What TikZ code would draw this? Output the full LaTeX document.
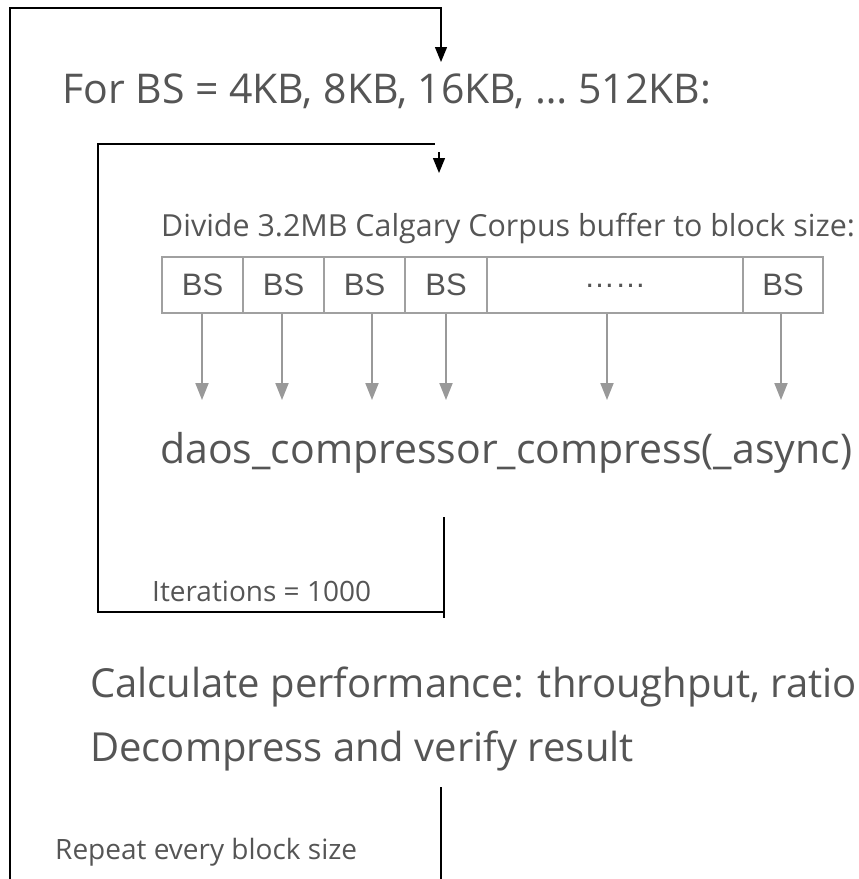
\documentclass[tikz,border=0pt]{standalone}
\usepackage{fontspec}
\setmainfont{Open Sans}
\newfontfamily\boxfont{Liberation Sans}
\usetikzlibrary{arrows.meta}
\definecolor{txt}{HTML}{555555}
\definecolor{boxline}{HTML}{A0A0A0}
\definecolor{garrow}{HTML}{999999}
\tikzset{
  lbl/.style={anchor=base west,inner sep=0pt,text=txt},
  big/.style={lbl,font=\fontsize{41}{46}\selectfont},
  mid/.style={lbl,font=\fontsize{30.4}{34}\selectfont},
  small/.style={lbl,font=\fontsize{28}{32}\selectfont},
  bsbox/.style={draw=boxline,line width=1.3pt,minimum height=56pt,inner sep=0pt,text=txt,font=\boxfont\fontsize{31}{34}\selectfont},
  loopline/.style={draw=black,line width=1.3pt},
  blackarrow/.style={loopline,-{Triangle[width=12pt,length=15pt]}},
  grayarrow/.style={draw=garrow,line width=2pt,-{Triangle[width=13pt,length=17pt]}}
}
\begin{document}
\begin{tikzpicture}[x=1pt,y=-1pt]
\useasboundingbox (0,0) rectangle (859,879);
% texts
\node[big] (forbs) at (62,103) {For BS = 4KB, 8KB, 16KB, … 512KB:};
\node[mid] (divide) at (161,236) {Divide 3.2MB Calgary Corpus buffer to block size:};
\node[big] (daos) at (160,463) {daos\_compressor\_compress(\_async)};
\node[small] (iter) at (152,601) {Iterations = 1000};
\node[big,font=\fontsize{40}{46}\selectfont] (calc) at (90,697) {Calculate performance: throughput, ratio};
\node[big,font=\fontsize{40}{46}\selectfont] (decomp) at (90,761) {Decompress and verify result};
\node[small] (repeat) at (55,859) {Repeat every block size};
% boxes
\node[bsbox,minimum width=81pt] (b1) at (202.5,285) {BS};
\node[bsbox,minimum width=81pt] (b2) at (283.5,285) {BS};
\node[bsbox,minimum width=81pt] (b3) at (364.5,285) {BS};
\node[bsbox,minimum width=82pt] (b4) at (446,285) {BS};
\node[bsbox,minimum width=256pt] (b5) at (615,285) {\raisebox{-4pt}{……}};
\node[bsbox,minimum width=80pt] (b6) at (783,285) {BS};
% gray arrows
\coordinate (t1) at (202,400);
\coordinate (t2) at (282,400);
\coordinate (t3) at (372,400);
\coordinate (t4) at (446,400);
\coordinate (t5) at (607,400);
\coordinate (t6) at (781,400);
\draw[grayarrow] (b1.south -| t1) -- (t1);
\draw[grayarrow] (b2.south -| t2) -- (t2);
\draw[grayarrow] (b3.south -| t3) -- (t3);
\draw[grayarrow] (b4.south -| t4) -- (t4);
\draw[grayarrow] (b5.south -| t5) -- (t5);
\draw[grayarrow] (b6.south -| t6) -- (t6);
% outer loop
\coordinate (oBL) at (10,882);
\coordinate (oTL) at (10,8);
\coordinate (oTR) at (441,8);
\coordinate (oIn) at (441,62);
\coordinate (oRt) at (441,787);
\coordinate (oRb) at (441,882);
\draw[blackarrow] (oBL) -- (oTL) -- (oTR) -- (oIn);
\draw[loopline] (oRt) -- (oRb);
% inner loop
\coordinate (iBL) at (98,612);
\coordinate (iTL) at (98,144);
\coordinate (iTR) at (435,144);
\coordinate (iAs) at (439,152);
\coordinate (iAe) at (439,173);
\coordinate (iRt) at (444,517);
\coordinate (iRb) at (444,618);
\coordinate (iBR) at (444,612);
\draw[loopline] (iBR) -- (iBL) -- (iTL) -- (iTR);
\draw[blackarrow] (iAs) -- (iAe);
\draw[loopline] (iRt) -- (iRb);
\end{tikzpicture}
\end{document}
